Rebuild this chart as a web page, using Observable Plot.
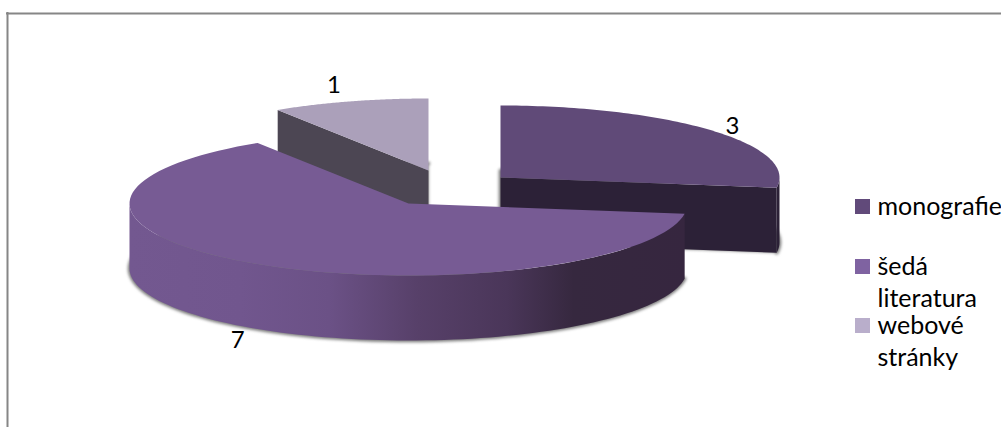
<!DOCTYPE html>
<html>
<head>
<meta charset="utf-8">
<script src="https://cdn.jsdelivr.net/npm/d3@7"></script>
<script src="https://cdn.jsdelivr.net/npm/@observablehq/plot@0.6"></script>
<style>
html,body{margin:0;padding:0;background:#fff;overflow:hidden}
svg{display:block}
</style>
</head>
<body>
<div id="chart"></div>
<script>
// data
const categories = ["monografie", "šedá literatura", "webové stránky"];
const values = [3, 7, 1];
const legendLines = [["monografie"], ["šedá", "literatura"], ["webové", "stránky"]];

// styles
const topColors = ["#604a78", "#775b94", "#aba0ba"];
const edgeColors = ["#2c2137", "#36263f", "#4c4653"];
const legendColors = ["#614a7a", "#7f63a1", "#b9aecb"];
const wallStops = [[0,"#735890"],[0.2,"#71568e"],[0.36,"#6b5186"],[0.52,"#574069"],[0.68,"#4a3659"],[0.8,"#36283f"],[1,"#36263f"]];
const textColor = "#000";

// layout of the exploded pie
const W = 1001, H = 427;
const rx = 279, ry = 72, depth = 65;
const centers = [[500,177],[408,203],[428,170]];
const labelNudge = [[21,-4],[-20,11],[-16,-16]];
const legendSwatchX = 855, legendSwatchSize = 15, legendTextX = 877;
const legendTop = [199, 259, 318];
const lineGap = 32.5;

// angles from values
const total = d3.sum(values);
let acc = 0;
const slices = categories.map((name,i)=>{
  const a0 = acc/total*2*Math.PI; acc += values[i];
  const a1 = acc/total*2*Math.PI;
  return {name, value:values[i], a0, a1, cx:centers[i][0], cy:centers[i][1], i};
});
const pt = (s,a,dz=0)=>({x:s.cx+rx*Math.sin(a), y:s.cy-ry*Math.cos(a)+dz});
const arc = (s,a0,a1,dz=0,n=90)=>d3.range(n+1).map(k=>pt(s,a0+(a1-a0)*k/n,dz));
const wedge = (s,dz=0)=>[{x:s.cx,y:s.cy+dz},...arc(s,s.a0,s.a1,dz)];
const radial = (s,a)=>[{x:s.cx,y:s.cy},pt(s,a),pt(s,a,depth),{x:s.cx,y:s.cy+depth}];
const wall = (s,a0,a1)=>[...arc(s,a0,a1),...arc(s,a0,a1,depth).reverse()];
const poly = (pts,o)=>Plot.line(pts,{x:"x",y:"y",stroke:"none",...o});

const [mono,big,web] = slices;
const shadow = s=>poly(wedge(s,depth),{fill:"#7c7c7c",stroke:"#7c7c7c",strokeWidth:3.5,imageFilter:"blur(1.6px)"});

const defs = ()=>{
  const d = document.createElementNS("http://www.w3.org/2000/svg","defs");
  d.innerHTML = `<linearGradient id="wallGrad" x1="0" x2="1" y1="0" y2="0">${wallStops.map(([o,c])=>`<stop offset="${o}" stop-color="${c}"/>`).join("")}</linearGradient>`;
  return d;
};

// legend rows
const legendRows = legendLines.flatMap((lines,i)=>lines.map((t,j)=>({t,x:legendTextX,y:legendTop[i]+15+j*lineGap})));
const swatches = legendTop.map((y,i)=>({x1:legendSwatchX,x2:legendSwatchX+legendSwatchSize,y1:y,y2:y+legendSwatchSize,c:legendColors[i]}));

// value labels placed from the middle of each slice's arc
const labels = slices.map((s,i)=>{
  const m=(s.a0+s.a1)/2, p=pt(s,m,Math.cos(m)<0?depth:0);
  return {x:p.x+labelNudge[i][0],y:p.y+labelNudge[i][1],t:String(s.value)};
});

const chart = Plot.plot({
  width:W,height:H,margin:0,
  style:{background:"#fff",fontFamily:"Lato, sans-serif"},
  x:{domain:[0,W],range:[0,W],axis:null},
  y:{domain:[0,H],range:[0,H],axis:null},
  marks:[
    defs,
    Plot.ruleY([13],{x1:6,x2:W,stroke:"#868686",strokeWidth:2}),
    Plot.ruleX([7],{y1:12,y2:H,stroke:"#868686",strokeWidth:2}),
    shadow(web),
    poly(radial(web,web.a0),{fill:edgeColors[2]}),
    poly(wedge(web),{fill:topColors[2]}),
    shadow(mono),
    poly(radial(mono,mono.a1),{fill:edgeColors[0]}),
    poly(wall(mono,Math.PI/2,mono.a1),{fill:edgeColors[0]}),
    poly(wedge(mono),{fill:topColors[0]}),
    shadow(big),
    poly(wall(big,big.a0,1.5*Math.PI),{fill:"url(#wallGrad)"}),
    poly(wedge(big),{fill:topColors[1]}),
    Plot.text(labels,{x:"x",y:"y",text:"t",fontSize:24,fill:textColor}),
    Plot.rect(swatches,{x1:"x1",x2:"x2",y1:"y1",y2:"y2",fill:"c"}),
    Plot.text(legendRows,{x:"x",y:"y",text:"t",textAnchor:"start",lineAnchor:"bottom",fontSize:25,fill:textColor})
  ]
});
document.getElementById("chart").append(chart);
</script>
</body>
</html>
